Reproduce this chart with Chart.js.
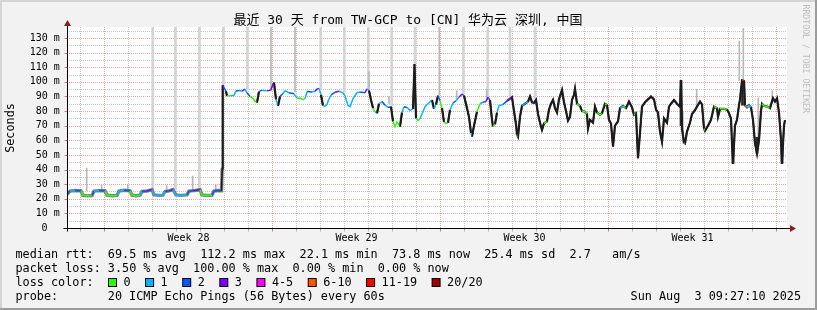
<!DOCTYPE html>
<html><head><meta charset="utf-8">
<script src="https://cdn.jsdelivr.net/npm/chart.js@4.4.1/dist/chart.umd.min.js"></script>
<style>html,body{margin:0;padding:0;background:#f2f2f2;}canvas{display:block}</style>
</head><body>
<canvas id="c" width="817" height="310"></canvas>
<script>
// ---------- texts ----------
const titleText = "最近 30 天 from TW-GCP to [CN] 华为云 深圳, 中国";
const yAxisTitle = "Seconds";
const watermark = "RRDTOOL / TOBI OETIKER";
const yTickValues = [0,10,20,30,40,50,60,70,80,90,100,110,120,130];
const yTickLabels = ["0","10 m","20 m","30 m","40 m","50 m","60 m","70 m","80 m","90 m","100 m","110 m","120 m","130 m"];
const yMinorValues = [5,15,25,35,45,55,65,75,85,95,105,115,125,135];
const weekLabels = ["Week 28","Week 29","Week 30","Week 31"];
const weekLabelHours = [121,289,457,625];
const weekGridHours = [37,205,373,541,709];
const dayGridHours = [13,37,61,85,109,133,157,181,205,229,253,277,301,325,349,373,397,421,445,469,493,517,541,565,589,613,637,661,685,709];
const rttStats = ["69.5","112.2","22.1","73.8","25.4"];
const amPerSec = "2.7";
const lossStats = ["3.50","100.00","0.00","0.00"];
const lossLabels = ["0","1","2","3","4-5","6-10","11-19","20/20"];
const lossColors = ["#26ff00","#00b8ff","#0059ff","#7e00ff","#ff00ff","#ff5500","#ff0000","#a10000"];
const probeText = "20 ICMP Echo Pings (56 Bytes) every 60s";
const dateText = "Sun Aug  3 09:27:10 2025";

// ---------- median rtt (hours since start, ms, loss class) ----------
const medianHours = [
 0,3,8,14,16,20,25,27,32,38, 40,45,50,52,57,63,65,69,73,75, 80,85,87,92,96,98,102,106,109,114, 120,122,127,133,135,140,145,147,151,154.5, 155.2,155.7,
 157,159,160,164,167,169,172,175,178,180, 183,186,188,190,192,195,200,204,206,207, 209,211,213,216,218,222,227,230,233,236, 238,240,245,248,250,252,254,256,258,260, 261.5,264,268,272,276,278,281,283,286,290, 293,298,300,
 302,304,306,308,310,312,315,318,321,324, 326,328,330,333,335,337,340,343,346,347.5, 349,351,353,355,358,361,365,367,369,371, 373,375,377,379,381,383,386,389,392,395, 397,400,402,404,405,407,410,413,416,419, 421,423,425,426,428,430,432,436,440,443, 445,
 447,449,450,451,453,455,458,461,463,465, 467,469,471,473,475,477,480,482,484,486, 488,490,492,495,497,499,501,503,505,507, 508,510,513,515,518,520,521,523,526,528, 530,533,535,538,540,542,544,546,548,551, 553,556,559,562,565,567,569,571,573,575, 578,581,584,587,589,591,593,595,597,600, 602,604,607,610,
 613,614,615,617,618,620,623,625,628,630, 633,635,637,638,641,644,647,650,651,653, 657,660,662,664,665,666,668,670,672,673, 675,677,678,680,682,684,686,688,690,692, 694,695,697,701,703,706,708,710,712,714, 715,717,718
];
const medianRtt = [
 23.0,25.3,25.6,25.4,22.3,22.0,22.2,25.2,25.6,25.5, 22.4,22.1,22.3,25.3,25.8,25.4,22.4,22.1,22.4,25.0, 25.3,26.2,22.6,22.3,22.5,25.0,25.4,26.3,22.6,22.3, 22.6,25.2,25.6,26.2,22.6,22.2,22.5,25.3,25.6,25.5, 40.8,97.8,
 96.0,93.5,90.3,90.5,90.8,93.8,94.0,93.6,95.0,92.5, 90.0,88.5,86.8,85.8,93.3,94.3,93.8,94.5,98.5,99.5, 88.0,83.5,90.0,92.0,93.8,92.5,91.8,88.8,89.0,87.8, 88.5,93.3,93.0,93.6,95.0,95.5,91.0,83.8,83.3,84.5, 87.6,91.0,92.8,93.5,92.5,90.5,83.8,83.0,88.5,92.5, 93.0,92.5,95.2,
 94.0,87.6,82.0,79.5,78.5,85.0,86.5,84.0,82.5,83.0, 73.0,69.3,72.5,69.3,79.0,83.0,82.5,80.5,81.5,112.2, 75.0,73.5,74.5,78.0,83.0,85.0,87.6,81.5,84.5,90.5, 87.0,82.0,72.5,71.6,72.0,80.7,85.5,87.0,89.5,91.6, 90.5,82.0,76.0,65.0,62.5,70.0,79.5,85.0,86.0,86.5, 89.5,87.5,74.0,69.3,71.0,79.0,83.8,84.5,87.0,88.5, 89.5,
 80.0,71.0,64.0,62.5,76.0,83.5,85.0,86.5,90.0,86.0, 85.5,87.6,78.0,72.0,67.1,71.5,73.0,81.0,85.0,87.6, 82.0,79.0,88.0,94.4,86.0,80.0,73.5,76.0,87.6,91.0, 95.2,85.0,83.5,80.0,79.5,78.0,68.0,74.0,72.0,83.0, 79.0,77.5,78.5,85.0,84.0,74.0,71.5,55.6,70.0,73.0, 82.0,83.5,82.0,86.5,82.5,77.5,78.5,47.7,65.0,83.0, 86.0,88.0,89.9,88.0,81.0,79.0,66.0,59.0,75.0,72.0, 83.0,85.0,87.6,85.0,
 83.0,101.0,68.0,58.5,57.9,66.0,72.0,78.0,80.7,83.0, 86.5,84.5,68.0,66.5,70.0,74.0,83.0,82.0,76.0,81.5, 81.5,81.0,78.5,75.0,58.0,44.3,70.0,74.0,84.0,88.0, 101.0,100.5,84.0,82.5,84.0,82.5,74.0,58.0,51.0,60.0, 80.0,85.0,83.5,83.0,82.0,88.8,86.5,88.8,79.0,60.0, 44.3,70.0,73.8
];
const medianLoss = [
 1,2,1,2,0,0,0,2,1,2, 0,0,0,1,1,2,0,0,0,1, 2,3,1,1,1,1,2,3,1,1, 1,2,2,3,0,0,0,2,2,2, 3,3,
 3,2,0,0,1,1,2,1,3,1, 2,0,0,0,1,2,1,3,3,3, 1,1,1,2,1,1,2,1,0,0, 0,1,2,1,3,3,1,1,1,1, 1,1,2,3,1,1,1,1,1,1, 1,2,3,
 1,1,1,0,1,1,1,2,1,2, 1,0,0,0,1,1,2,1,1,3, 0,0,0,1,1,1,1,1,1,1, 2,0,0,0,0,0,1,2,1,3, 2,1,1,1,1,0,0,0,1,2, 3,2,0,0,0,0,1,1,2,3, 3,
 0,0,0,0,0,1,1,1,1,1, 3,3,0,0,0,0,0,1,2,2, 1,1,0,0,0,0,0,0,0,1, 1,0,0,0,0,0,0,0,0,0, 0,0,0,0,0,0,0,0,0,0, 0,1,0,0,0,0,0,0,0,0, 0,0,0,0,0,0,0,0,0,0, 1,1,2,0,
 0,1,0,0,0,0,0,0,0,0, 0,0,0,0,0,0,0,0,3,0, 0,0,0,0,0,0,0,0,0,0, 6,6,5,5,1,1,0,0,0,0, 0,0,0,0,0,0,1,0,0,0, 0,0,0
];

// ---------- smoke (ping spread) ----------
const wideSpikeHours = [85.7,108.3,132.3,156.3,180.3,253.7,277.3,301.3,324.7,348,396.3,420.7,443,468];
const wideSpikeLow   = [26.5,26.5,26.5,96,95,95,93,95,84,112,92,90,90,88];
const wideSpikeHigh  = [140,140,140,140,140,140,140,140,140,140,140,140,140,140];
const thinSpikeHours = [19.7,34.7,60.7,99.7,125.7,148.7,302,322,389.7,419.7,616,629.7,672.3,676.3,691.3,705.3,204,228,372.3];
const thinSpikeLow   = [25.5,25.5,25.5,25.3,25.5,25.5,95,85,88,88,58,83,101,101,60,88,95,93,91];
const thinSpikeHigh  = [41,29,29.5,29,35.6,29.7,107,90,94,95,80,95,128,136.6,89,94,140,140,140];
const darkSmokeHours = [614,666,675.5,690,715];
const darkSmokeLow   = [70,44,84,51,44];
const darkSmokeHigh  = [101,60,101,62,60];

// ---------- build ----------
const W = 817, H = 310;
const MONO = '"DejaVu Sans Mono","Noto Sans CJK SC",monospace';
const pts = (xs, ys) => xs.map((h, i) => ({x: h, y: ys[i]}));
const rng = (xs, lo, hi) => xs.map((h, i) => ({x: h, y: [lo[i], hi[i]]}));
const steep = c => {
  const dy = Math.abs(c.p1.parsed.y - c.p0.parsed.y);
  const dx = Math.max(0.1, c.p1.parsed.x - c.p0.parsed.x);
  return dy > 2 && dy / dx > 2.5;
};

const rrd = {
  id: 'rrd',
  beforeDraw(chart) {
    const {ctx, chartArea: a, scales: {x, y}} = chart;
    ctx.save();
    ctx.fillStyle = '#f2f2f2'; ctx.fillRect(0, 0, W, H);
    ctx.fillStyle = '#d4d4d4'; ctx.fillRect(0, 0, W, 2); ctx.fillRect(0, 0, 2, H);
    ctx.fillStyle = '#9c9c9c'; ctx.fillRect(0, H - 2, W, 2); ctx.fillRect(W - 2, 0, 2, H);
    ctx.fillStyle = '#ffffff'; ctx.fillRect(a.left, a.top, a.right - a.left, a.bottom - a.top);
    ctx.lineWidth = 1; ctx.setLineDash([1, 1]);
    const hline = (v, c) => { const py = Math.round(y.getPixelForValue(v)) + 0.5; ctx.strokeStyle = c; ctx.beginPath(); ctx.moveTo(a.left, py); ctx.lineTo(a.right, py); ctx.stroke(); };
    const vline = (h, c) => { const px = Math.round(x.getPixelForValue(h)) + 0.5; ctx.strokeStyle = c; ctx.beginPath(); ctx.moveTo(px, a.top); ctx.lineTo(px, a.bottom); ctx.stroke(); };
    yMinorValues.forEach(v => hline(v, '#c8c8c8'));
    dayGridHours.forEach(h => { if (!weekGridHours.includes(h)) vline(h, '#c8c8c8'); });
    yTickValues.forEach(v => { if (v > 0) hline(v, '#f2a0a0'); });
    weekGridHours.forEach(h => vline(h, '#f2a0a0'));
    ctx.restore();
  },
  afterDraw(chart) {
    const {ctx, chartArea: a, scales: {x, y}} = chart;
    ctx.save();
    const y0 = Math.round(y.getPixelForValue(0)) + 0.5;
    const x0 = Math.round(a.left) + 0.5;
    ctx.lineWidth = 1;
    dayGridHours.forEach(h => {
      const px = Math.round(x.getPixelForValue(h)) + 0.5;
      ctx.strokeStyle = weekGridHours.includes(h) ? '#f07070' : '#b0b0b0';
      ctx.beginPath(); ctx.moveTo(px, y0); ctx.lineTo(px, y0 + 3); ctx.stroke();
    });
    yTickValues.forEach(v => {
      const py = Math.round(y.getPixelForValue(v)) + 0.5;
      ctx.strokeStyle = '#f07070'; ctx.beginPath(); ctx.moveTo(x0 - 3, py); ctx.lineTo(x0, py); ctx.stroke();
    });
    ctx.strokeStyle = '#000'; ctx.beginPath();
    ctx.moveTo(x0 - 4, y0); ctx.lineTo(a.right + 4, y0);
    ctx.moveTo(x0, y0 + 3); ctx.lineTo(x0, a.top - 4); ctx.stroke();
    ctx.fillStyle = '#8b1c1c';
    ctx.beginPath(); ctx.moveTo(x0, a.top - 7); ctx.lineTo(x0 - 3.5, a.top - 1); ctx.lineTo(x0 + 3.5, a.top - 1); ctx.closePath(); ctx.fill();
    ctx.beginPath(); ctx.moveTo(a.right + 9, y0); ctx.lineTo(a.right + 3, y0 - 3.5); ctx.lineTo(a.right + 3, y0 + 3.5); ctx.closePath(); ctx.fill();
    ctx.fillStyle = '#000'; ctx.font = '10px ' + MONO; ctx.textBaseline = 'middle'; ctx.textAlign = 'right';
    yTickValues.forEach((v, i) => ctx.fillText(yTickLabels[i], i === 0 ? 47.6 : 59.8, y.getPixelForValue(v)));
    ctx.textAlign = 'center';
    weekLabels.forEach((t, i) => ctx.fillText(t, x.getPixelForValue(weekLabelHours[i]) + 0.5, 238));
    ctx.font = '13px ' + MONO; ctx.fillText(titleText, 408, 21);
    ctx.font = '11.8px ' + MONO;
    ctx.save(); ctx.translate(10.5, 128); ctx.rotate(-Math.PI / 2); ctx.fillText(yAxisTitle, 0, 0); ctx.restore();
    ctx.save(); ctx.fillStyle = '#bdbdbd'; ctx.font = '8.2px ' + MONO; ctx.textAlign = 'left';
    ctx.translate(805, 4.5); ctx.rotate(Math.PI / 2); ctx.fillText(watermark, 0, 0); ctx.restore();
    ctx.textAlign = 'left'; ctx.font = '11.8px ' + MONO; ctx.fillStyle = '#000';
    const L = 15.5, cw = 7.1;
    ctx.fillText(`median rtt:  ${rttStats[0]} ms avg  ${rttStats[1]} ms max  ${rttStats[2]} ms min  ${rttStats[3]} ms now  ${rttStats[4]} ms sd  ${amPerSec}   am/s`, L, 254.5);
    ctx.fillText(`packet loss: ${lossStats[0]} % avg  ${lossStats[1]} % max  ${lossStats[2]} % min  ${lossStats[3]} % now`, L, 268.5);
    ctx.fillText('loss color:', L, 282.5);
    let bx = 108;
    lossLabels.forEach((lab, i) => {
      ctx.fillStyle = '#000'; ctx.fillRect(bx, 278, 9, 9);
      ctx.fillStyle = lossColors[i]; ctx.fillRect(bx + 1, 279, 7, 7);
      ctx.fillStyle = '#000'; ctx.fillText(lab, bx + 15.5, 282.5);
      bx += 15.5 + lab.length * cw + 14.5;
    });
    ctx.fillText('probe:', L, 296.5);
    ctx.fillText(probeText, L + 13 * cw, 296.5);
    ctx.textAlign = 'right'; ctx.fillText(dateText, 801, 296.5);
    ctx.restore();
  }
};

new Chart(document.getElementById('c'), {
  type: 'line',
  data: {
    datasets: [
      {type: 'bar', label: 'smoke max', data: rng(wideSpikeHours, wideSpikeLow, wideSpikeHigh), backgroundColor: '#d4d4d4', barThickness: 2, grouped: false, order: 6},
      {type: 'bar', label: 'smoke', data: rng(thinSpikeHours, thinSpikeLow, thinSpikeHigh), backgroundColor: '#b8b8b8', barThickness: 1, grouped: false, order: 5},
      {type: 'bar', label: 'smoke dark', data: rng(darkSmokeHours, darkSmokeLow, darkSmokeHigh), backgroundColor: '#262626', barThickness: 2, grouped: false, order: 4},
      {type: 'line', label: 'smoke band', data: pts(medianHours, medianRtt), borderWidth: 3.4, pointRadius: 0, tension: 0, order: 3,
       segment: {
         borderColor: c => {
           const h = c.p0.parsed.x;
           if (h < 155) return 'rgba(90,90,90,0.75)';
           if (h >= 440) return '#262626';
           return steep(c) ? '#262626' : 'rgba(0,0,0,0)';
         },
         borderWidth: c => c.p0.parsed.x < 155 ? 3.4 : 2.2
       }},
      {type: 'line', label: 'median rtt', data: pts(medianHours, medianRtt), borderWidth: 1.5, pointRadius: 0, tension: 0, order: 1,
       segment: {borderColor: c => {
         const dy = Math.abs(c.p1.parsed.y - c.p0.parsed.y);
         if (steep(c)) return '#1a1a1a';
         if (c.p0.parsed.x >= 440 && dy > 1.5) return '#1a1a1a';
         return lossColors[medianLoss[c.p1DataIndex]];
       }}}
    ]
  },
  options: {
    responsive: false, animation: false, devicePixelRatio: 1,
    layout: {padding: {left: 67, right: 30, top: 27, bottom: 82}},
    scales: {
      x: {type: 'linear', min: 0, max: 720, offset: false, display: false},
      y: {type: 'linear', min: 0, max: 137.5, display: false}
    },
    plugins: {legend: {display: false}, title: {display: false}, tooltip: {enabled: false}}
  },
  plugins: [rrd]
});
</script>
</body></html>
